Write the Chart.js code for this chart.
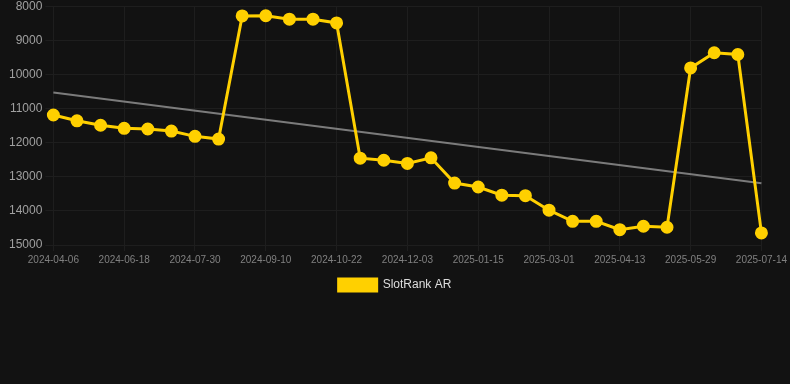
<!DOCTYPE html>
<html>
<head>
<meta charset="utf-8">
<script src="https://cdn.jsdelivr.net/npm/chart.js@4"></script>
<style>
  html, body { margin: 0; padding: 0; background: #121212; }
  #wrap { width: 790px; height: 305px; margin-top: -4px; }
</style>
</head>
<body>
<div id="wrap"><canvas id="rankChart"></canvas></div>
<script>
// 데이터
const dates = [
  '2024-04-06', '2024-05-21', '2024-06-04', '2024-06-18', '2024-07-02', '2024-07-16',
  '2024-07-30', '2024-08-13', '2024-08-27', '2024-09-10', '2024-09-24', '2024-10-08',
  '2024-10-22', '2024-11-05', '2024-11-19', '2024-12-03', '2024-12-17', '2024-12-31',
  '2025-01-15', '2025-01-29', '2025-02-12', '2025-03-01', '2025-03-15', '2025-03-29',
  '2025-04-13', '2025-04-27', '2025-05-11', '2025-05-29', '2025-06-12', '2025-06-26',
  '2025-07-14'
];
const rankValues = [
  11190, 11360, 11490, 11580, 11600, 11660, 11815, 11895, 8285, 8280,
  8380, 8380, 8490, 12455, 12515, 12610, 12445, 13185, 13300, 13540,
  13555, 13980, 14305, 14305, 14550, 14450, 14480, 9810, 9365, 9415,
  14645
];
// 추세선: 시작과 끝 값만
const trendValues = dates.map(() => null);
trendValues[0] = 10530;
trendValues[dates.length - 1] = 13190;
const yTicks = [8000, 9000, 10000, 11000, 12000, 13000, 14000, 15000];

const ctx = document.getElementById('rankChart').getContext('2d');
new Chart(ctx, {
  type: 'line',
  data: {
    labels: dates,
    datasets: [{
      label: 'SlotRank AR',
      data: rankValues,
      borderColor: '#ffd000',
      backgroundColor: '#ffd000',
      borderWidth: 3,
      pointRadius: 5,
      pointHoverRadius: 6,
      tension: 0
    }, {
      label: 'trend',
      data: trendValues,
      spanGaps: true,
      borderColor: 'rgba(150, 150, 150, 0.8)',
      borderWidth: 2,
      pointRadius: 0
    }]
  },
  options: {
    responsive: true,
    maintainAspectRatio: false,
    animation: false,
    plugins: {
      legend: {
        position: 'bottom',
        labels: {
          color: '#dddddd',
          font: { size: 12 },
          boxWidth: 38,
          boxHeight: 12,
          filter: item => item.text !== 'trend'
        }
      },
      tooltip: { enabled: false }
    },
    scales: {
      x: {
        grid: {
          color: c => (c.index % 3 === 0 ? '#1e1e1e' : 'transparent'),
          tickLength: 6
        },
        border: { color: '#1e1e1e' },
        ticks: {
          color: '#808080',
          font: { size: 10 },
          autoSkip: false,
          maxRotation: 0,
          callback: function (val, i) {
            return i % 3 === 0 ? this.getLabelForValue(val) : '';
          }
        }
      },
      y: {
        reverse: true,
        min: 8000,
        max: 15000,
        afterBuildTicks: axis => { axis.ticks = yTicks.map(v => ({ value: v })); },
        afterFit: axis => { axis.width += 6; },
        grid: { color: '#1e1e1e' },
        border: { display: false },
        ticks: {
          color: '#a0a0a0',
          font: { size: 12 },
          callback: v => String(v)
        }
      }
    }
  }
});
</script>
</body>
</html>
